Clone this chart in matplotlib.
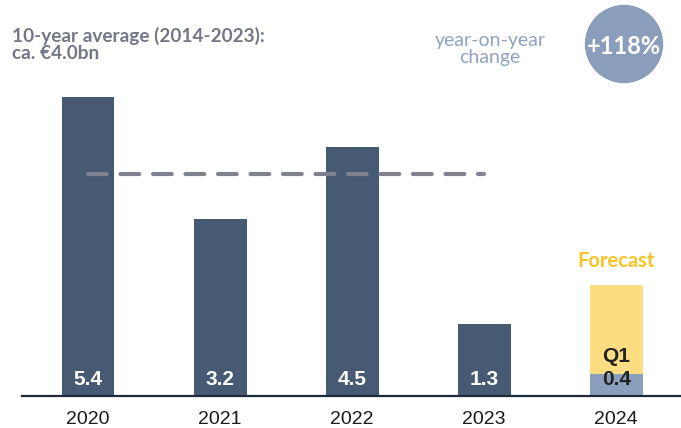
import matplotlib.pyplot as plt
from matplotlib.patches import Ellipse

years = ['2020', '2021', '2022', '2023', '2024']
values = [5.4, 3.2, 4.5, 1.3]
q1_2024 = 0.4
forecast_rest = 1.6
avg_10y = 4.0
yoy = '+118%'

dark = '#475a73'
light = '#8a9fbd'
yellow = '#fcdd82'

fig = plt.figure(figsize=(6.81, 4.28), dpi=100)
ax = fig.add_axes([22/681, 32/428, 1 - 22/681, 396/428])

x = list(range(len(years)))
ax.bar(x[:4], values, width=0.4, color=dark, zorder=2)
ax.bar(x[4], q1_2024, width=0.4, color=light, zorder=2)
ax.bar(x[4], forecast_rest, bottom=q1_2024, width=0.4, color=yellow, zorder=2)

for xi, v in zip(x[:4], values):
    ax.text(xi, 0.3, f'{v:.1f}', ha='center', va='center', color='white',
            fontsize=15, fontweight='bold', family='Liberation Sans')
ax.text(x[4], 0.3, f'{q1_2024:.1f}', ha='center', va='center', color='#222222',
        fontsize=15, fontweight='bold', family='Liberation Sans')
ax.text(x[4], 0.72, 'Q1', ha='center', va='center', color='#222222',
        fontsize=15, fontweight='bold', family='Liberation Sans')
ax.text(x[4], 2.44, 'Forecast', ha='center', va='center', color='#f7c325',
        fontsize=14.5, fontweight='bold', family='Lato')

ax.plot([x[0], x[3]], [avg_10y, avg_10y], color='#80838f', lw=3,
        dashes=(4.5, 3.3), solid_capstyle='round', dash_capstyle='round', zorder=3)

ax.set_xlim(-0.5, 4.49)
ax.set_ylim(0, 7.15)
ax.set_xticks(x)
ax.set_xticklabels(years, fontsize=14, family='Liberation Sans', color='#1a1a1a')
ax.tick_params(axis='x', length=0, pad=10.5)
ax.set_yticks([])
for s in ['top', 'right', 'left']:
    ax.spines[s].set_visible(False)
ax.spines['bottom'].set_color('#1c2a3a')
ax.spines['bottom'].set_linewidth(1.6)
ax.spines['bottom'].set_zorder(4)

fig.text(12/681, 1 - 44/428, '10-year average (2014-2023):\nca. €4.0bn', ha='left', va='center',
         fontsize=13.7, fontweight='bold', color='#737787', family='Lato', linespacing=1.0)
fig.text(490/681, 1 - 49/428, 'year-on-year\nchange', ha='center', va='center',
         fontsize=14, color='#8fa3c1', family='Lato', linespacing=0.95)

circ = Ellipse((624/681, 1 - 44/428), 77/681, 77/428, transform=fig.transFigure,
               color='#8a9ebb', zorder=1)
fig.patches.append(circ)
fig.text(624/681, 1 - 47/428, yoy, ha='center', va='center', fontsize=17,
         fontweight='bold', color='white', family='Lato')

fig.savefig('out.png', dpi=100)
